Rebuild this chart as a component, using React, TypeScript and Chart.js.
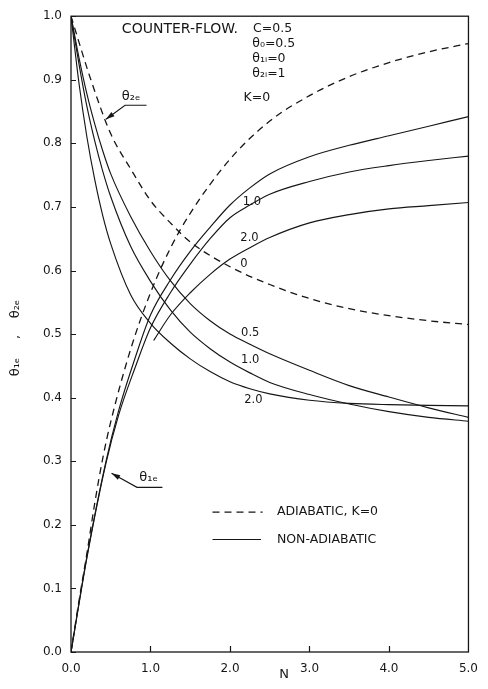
import React, { useEffect, useRef } from "react";
import { Chart, registerables } from "chart.js";

Chart.register(...registerables);

const FONT = "'DejaVu Sans', 'Noto Sans', sans-serif";
const INK = "#161616";

// Adiabatic exchanger, K = 0
const adiabRiseN = [0, 0.1, 0.2, 0.3, 0.4, 0.5, 0.75, 1.0, 1.25, 1.5, 2.0, 2.5, 3.0, 3.5, 4.0, 4.5, 5.0];
const adiabTheta1e = [0, 0.08, 0.155, 0.235, 0.305, 0.362, 0.476, 0.565, 0.635, 0.69, 0.775, 0.835, 0.875, 0.905, 0.927, 0.944, 0.957];
const adiabFallN = [0, 0.25, 0.5, 0.75, 1.0, 1.25, 1.5, 2.0, 2.5, 3.0, 3.5, 4.0, 4.5, 5.0];
const adiabTheta2e = [1.0, 0.9, 0.815, 0.76, 0.71, 0.675, 0.645, 0.606, 0.578, 0.556, 0.54, 0.529, 0.521, 0.515];

// Non-adiabatic, outlet temperature of fluid 1
const k05RiseN = [0, 0.2, 0.44, 0.6, 0.8, 1.0, 1.25, 1.5, 1.75, 2.0, 2.25, 2.5, 3.0, 3.5, 4.0, 4.5, 5.0];
const k05Theta1e = [0, 0.15, 0.3, 0.38, 0.46, 0.53, 0.585, 0.63, 0.668, 0.703, 0.73, 0.752, 0.779, 0.797, 0.812, 0.827, 0.842];
const k10RiseN = [0, 0.2, 0.44, 0.6, 0.8, 1.0, 1.25, 1.5, 1.75, 2.0, 2.25, 2.5, 3.0, 3.5, 4.0, 4.5, 5.0];
const k10Theta1e = [0, 0.148, 0.297, 0.373, 0.445, 0.51, 0.565, 0.61, 0.65, 0.683, 0.703, 0.72, 0.74, 0.755, 0.765, 0.773, 0.78];
const k20RiseN = [1.04, 1.25, 1.5, 1.75, 2.0, 2.25, 2.5, 3.0, 3.5, 4.0, 4.5, 5.0];
const k20Theta1e = [0.49, 0.53, 0.565, 0.594, 0.618, 0.636, 0.652, 0.675, 0.688, 0.697, 0.702, 0.707];

// Non-adiabatic, outlet temperature of fluid 2
const fallN = [0, 0.1, 0.2, 0.3, 0.4, 0.5, 0.75, 1.0, 1.25, 1.5, 1.75, 2.0, 2.25, 2.5, 3.0, 3.5, 4.0, 4.5, 5.0];
const k05Theta2e = [1.0, 0.935, 0.878, 0.83, 0.788, 0.752, 0.685, 0.63, 0.584, 0.548, 0.521, 0.5, 0.484, 0.469, 0.443, 0.419, 0.401, 0.384, 0.369];
const k10Theta2e = [1.0, 0.925, 0.858, 0.803, 0.756, 0.716, 0.638, 0.583, 0.538, 0.503, 0.477, 0.456, 0.439, 0.424, 0.405, 0.39, 0.378, 0.369, 0.363];
const k20Theta2e = [1.0, 0.895, 0.81, 0.742, 0.686, 0.642, 0.562, 0.517, 0.486, 0.461, 0.441, 0.425, 0.414, 0.406, 0.396, 0.391, 0.389, 0.388, 0.387];

const xTicks = [0, 1, 2, 3, 4, 5];
const yTicks = [0, 0.1, 0.2, 0.3, 0.4, 0.5, 0.6, 0.7, 0.8, 0.9, 1.0];

type Pt = { x: number; y: number };
const pts = (xs: number[], ys: number[]): Pt[] => xs.map((x, i) => ({ x, y: ys[i] }));

const line = (data: Pt[], dashed: boolean) => ({
  data,
  borderColor: INK,
  borderWidth: dashed ? 1.3 : 1.15,
  borderDash: dashed ? [7, 5] : [],
  pointRadius: 0,
  fill: false,
  cubicInterpolationMode: "monotone" as const,
});

// Text placed in (N, θ) coordinates
const notes: { t: string; x: number; y: number; size: number }[] = [
  { t: "COUNTER-FLOW.", x: 0.64, y: 0.98, size: 14 },
  { t: "C=0.5", x: 2.29, y: 0.981, size: 12.5 },
  { t: "θ₀=0.5", x: 2.28, y: 0.956, size: 12.5 },
  { t: "θ₁ᵢ=0", x: 2.28, y: 0.933, size: 12.5 },
  { t: "θ₂ᵢ=1", x: 2.28, y: 0.909, size: 12.5 },
  { t: "K=0", x: 2.17, y: 0.871, size: 12.5 },
  { t: "1.0", x: 2.16, y: 0.708, size: 11.5 },
  { t: "2.0", x: 2.13, y: 0.651, size: 11.5 },
  { t: "0", x: 2.13, y: 0.611, size: 11.5 },
  { t: "0.5", x: 2.14, y: 0.501, size: 11.5 },
  { t: "1.0", x: 2.14, y: 0.46, size: 11.5 },
  { t: "2.0", x: 2.18, y: 0.397, size: 11.5 },
  { t: "θ₂ₑ", x: 0.64, y: 0.874, size: 13 },
  { t: "θ₁ₑ", x: 0.86, y: 0.275, size: 13 },
  { t: "ADIABATIC, K=0", x: 2.59, y: 0.22, size: 12.5 },
  { t: "NON-ADIABATIC", x: 2.59, y: 0.177, size: 12.5 },
];

// Leader arrows: tail, elbow, head
const arrows: Pt[][] = [
  [{ x: 0.95, y: 0.86 }, { x: 0.68, y: 0.86 }, { x: 0.44, y: 0.838 }],
  [{ x: 1.15, y: 0.259 }, { x: 0.83, y: 0.259 }, { x: 0.51, y: 0.281 }],
];

const decorations = {
  id: "decorations",
  afterDraw(chart: any) {
    const { ctx, chartArea: a, scales } = chart;
    const sx = (v: number) => scales.x.getPixelForValue(v);
    const sy = (v: number) => scales.y.getPixelForValue(v);
    ctx.save();
    ctx.strokeStyle = INK;
    ctx.fillStyle = INK;

    // frame
    ctx.lineWidth = 1.3;
    ctx.strokeRect(a.left, a.top, a.right - a.left, a.bottom - a.top);

    // inward tick marks
    ctx.lineWidth = 1.2;
    ctx.beginPath();
    yTicks.forEach((v) => {
      const y = Math.round(sy(v)) + 0.5;
      ctx.moveTo(a.left, y);
      ctx.lineTo(a.left + 5, y);
    });
    xTicks.slice(1, -1).forEach((v) => {
      const x = Math.round(sx(v)) + 0.5;
      ctx.moveTo(x, a.bottom);
      ctx.lineTo(x, a.bottom - 6);
    });
    ctx.stroke();

    // text notes
    ctx.textAlign = "left";
    ctx.textBaseline = "middle";
    notes.forEach((n) => {
      ctx.font = `${n.size}px ${FONT}`;
      ctx.fillText(n.t, sx(n.x), sy(n.y));
    });

    // arrows
    ctx.lineWidth = 1.1;
    arrows.forEach((p) => {
      ctx.beginPath();
      ctx.moveTo(sx(p[0].x), sy(p[0].y));
      ctx.lineTo(sx(p[1].x), sy(p[1].y));
      const hx = sx(p[2].x), hy = sy(p[2].y);
      ctx.lineTo(hx, hy);
      ctx.stroke();
      const ang = Math.atan2(hy - sy(p[1].y), hx - sx(p[1].x));
      ctx.beginPath();
      ctx.moveTo(hx, hy);
      ctx.lineTo(hx - 9 * Math.cos(ang - 0.3), hy - 9 * Math.sin(ang - 0.3));
      ctx.lineTo(hx - 9 * Math.cos(ang + 0.3), hy - 9 * Math.sin(ang + 0.3));
      ctx.closePath();
      ctx.fill();
    });

    // legend samples
    ctx.lineWidth = 1.3;
    ctx.setLineDash([7, 5]);
    ctx.beginPath();
    ctx.moveTo(sx(1.78), sy(0.22));
    ctx.lineTo(sx(2.41), sy(0.22));
    ctx.stroke();
    ctx.setLineDash([]);
    ctx.lineWidth = 1.15;
    ctx.beginPath();
    ctx.moveTo(sx(1.78), sy(0.177));
    ctx.lineTo(sx(2.39), sy(0.177));
    ctx.stroke();

    // axis titles
    ctx.font = `13px ${FONT}`;
    ctx.textAlign = "center";
    ctx.fillText("N", sx(2.68), 675);
    ctx.translate(16, 0);
    ctx.rotate(-Math.PI / 2);
    ctx.fillText("θ₁ₑ", -367, 0);
    ctx.fillText(",", -337, 0);
    ctx.fillText("θ₂ₑ", -309, 0);
    ctx.restore();
  },
};

export default function App() {
  const ref = useRef<HTMLCanvasElement | null>(null);

  useEffect(() => {
    if (!ref.current) return;
    const chart = new Chart(ref.current, {
      type: "line",
      data: {
        datasets: [
          line(pts(adiabRiseN, adiabTheta1e), true),
          line(pts(adiabFallN, adiabTheta2e), true),
          line(pts(k05RiseN, k05Theta1e), false),
          line(pts(k10RiseN, k10Theta1e), false),
          line(pts(k20RiseN, k20Theta1e), false),
          line(pts(fallN, k05Theta2e), false),
          line(pts(fallN, k10Theta2e), false),
          line(pts(fallN, k20Theta2e), false),
        ],
      },
      options: {
        responsive: false,
        animation: false,
        layout: { padding: { left: 0, right: 18, top: 15, bottom: 0 } },
        plugins: { legend: { display: false }, tooltip: { enabled: false } },
        scales: {
          x: {
            type: "linear",
            min: 0,
            max: 5,
            afterFit: (s: any) => { s.height = 37; },
            grid: { display: false, drawTicks: false },
            border: { display: false },
            ticks: {
              stepSize: 1,
              padding: 10,
              autoSkip: false,
              maxRotation: 0,
              color: INK,
              font: { family: FONT, size: 12 },
              callback: (v: any) => Number(v).toFixed(1),
            },
          },
          y: {
            type: "linear",
            min: 0,
            max: 1,
            afterFit: (s: any) => { s.width = 71; },
            grid: { display: false, drawTicks: false },
            border: { display: false },
            ticks: {
              stepSize: 0.1,
              padding: 9,
              autoSkip: false,
              color: INK,
              font: { family: FONT, size: 12 },
              callback: (v: any) => Number(v).toFixed(1),
            },
          },
        },
      },
      plugins: [decorations],
    });
    return () => chart.destroy();
  }, []);

  return (
    <div style={{ position: "absolute", left: 0, top: 0, width: 488, height: 689, background: "#fff" }}>
      <canvas ref={ref} width={488} height={689} style={{ display: "block" }} />
    </div>
  );
}
